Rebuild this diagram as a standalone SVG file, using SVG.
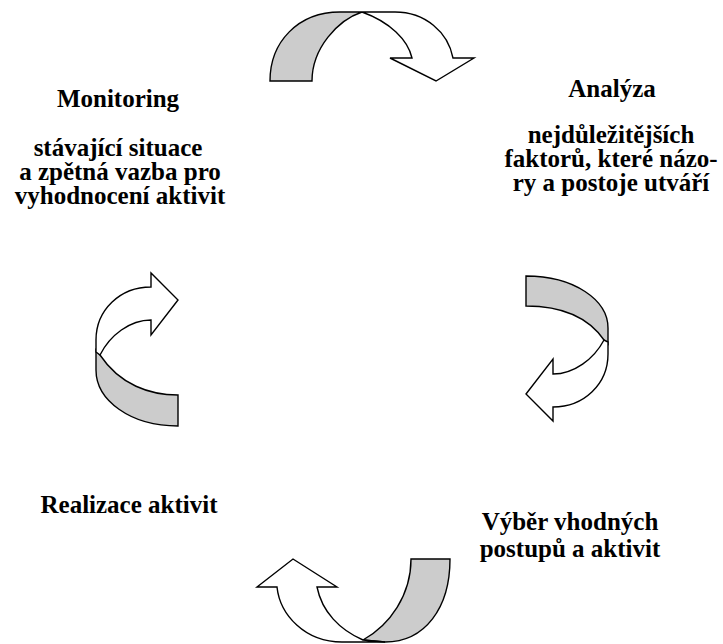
<svg xmlns="http://www.w3.org/2000/svg" width="723" height="644" viewBox="0 0 723 644">
<style>
text{font-family:'Liberation Serif','Times New Roman','Noto Serif','DejaVu Serif',serif;font-weight:700;font-size:25px;fill:#000;text-anchor:middle}
.g{fill:#cccccc;stroke:#000;stroke-width:1.4;stroke-linejoin:miter}
.w{fill:#ffffff;stroke:#000;stroke-width:1.4;stroke-linejoin:miter}
</style>
<rect width="723" height="644" fill="#fff"/>
<g id="connectors">
  <g id="arrow-top">
    <path class="g" d="M270,81 C270,42 298,12 340,12 L362,12 C338,20 312,48 312,81 Z"/>
    <path class="w" d="M362,12 L395,12 C425,12 448,32 453,58 L474,58 L436,81 L390,58 L412,58 C408,40 390,22 362,12 Z"/>
  </g>
  <g id="arrow-right">
    <path class="g" d="M604,340 C586,314 556,306 526,306 L526,276 C574,276 608,300 608,328 L608,344 Z"/>
    <path class="w" d="M608,342 L608,354 C608,384 584,407 553,407 L553,421 L526,394 L553,359 L553,374 C574,374 594,359 604,340 Z"/>
  </g>
  <g id="arrow-bottom">
    <path class="g" d="M411,559 L450,559 C450,608 425,642 385,642 L363,640 C390,625 411,595 411,559 Z"/>
    <path class="w" d="M363,640 L385,642 L342,642 C305,642 280,615 277,587 L257,587 L293,559 L337,587 L317,587 C322,612 340,630 363,640 Z"/>
  </g>
  <g id="arrow-left">
    <path class="g" d="M100,355 C120,385 150,395 178,395 L178,426 C130,426 96,400 96,370 L96,350 Z"/>
    <path class="w" d="M96,352 L96,340 C96,310 120,287 151,287 L151,273 L178,300 L151,335 L151,320 C130,320 110,335 100,355 Z"/>
  </g>
</g>
<g id="node-monitoring" font-family="Liberation Serif, serif">
  <text x="118" y="107">Monitoring</text>
  <text x="118" y="156">stávající situace</text>
  <text x="120" y="180">a zpětná vazba pro</text>
  <text x="120" y="204">vyhodnocení aktivit</text>
</g>
<g id="node-analyza" font-family="Liberation Serif, serif">
  <text x="612" y="97">Analýza</text>
  <text x="611" y="143">nejdůležitějších</text>
  <text x="611" y="167">faktorů, které názo-</text>
  <text x="611" y="191">ry a postoje utváří</text>
</g>
<g id="node-vyber" font-family="Liberation Serif, serif">
  <text x="570" y="530">Výběr vhodných</text>
  <text x="570" y="557">postupů a aktivit</text>
</g>
<g id="node-realizace" font-family="Liberation Serif, serif">
  <text x="129" y="513">Realizace aktivit</text>
</g>
</svg>
